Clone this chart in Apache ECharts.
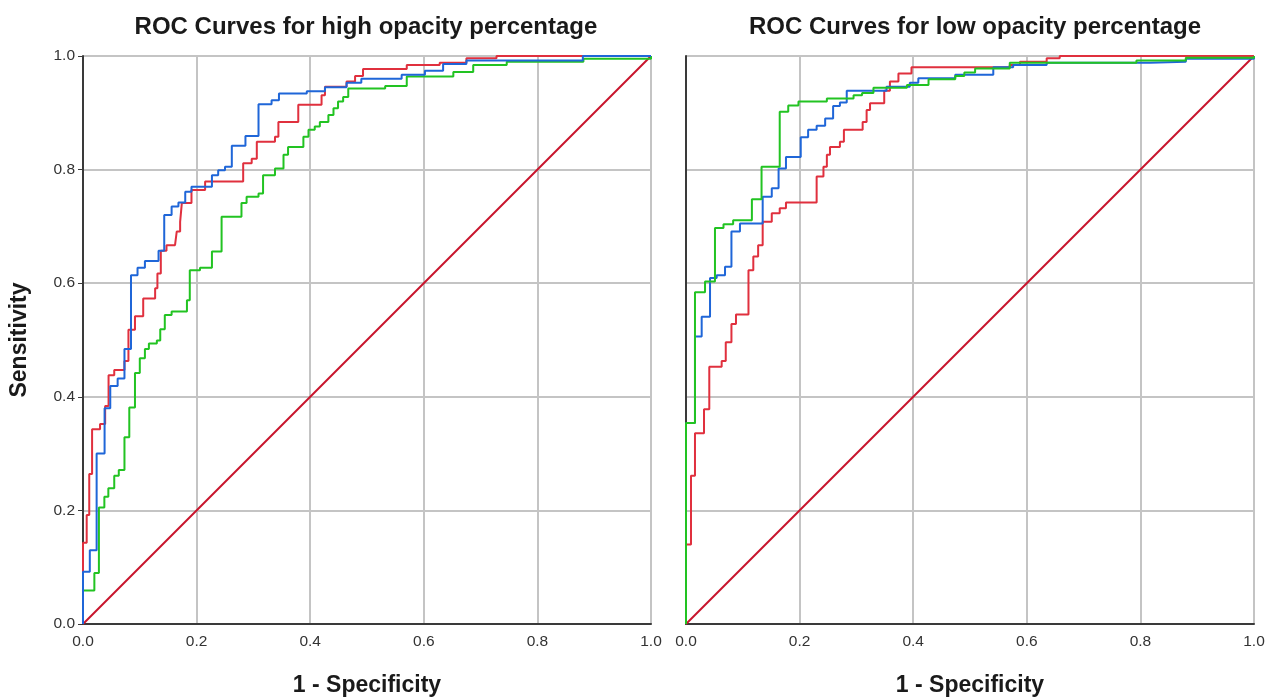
<!DOCTYPE html>
<html>
<head>
<meta charset="utf-8">
<script src="https://cdn.jsdelivr.net/npm/echarts@6/dist/echarts.min.js"></script>
<style>
html,body{margin:0;padding:0;background:#fff;}
#chart{width:1273px;height:699px;}
</style>
</head>
<body>
<div id="chart"></div>
<script>
// ---------- Data ----------
var titles = ['ROC Curves for high opacity percentage', 'ROC Curves for low opacity percentage'];
var xAxisName = '1 - Specificity';
var yAxisName = 'Sensitivity';
var tickValues = [0, 0.2, 0.4, 0.6, 0.8, 1.0];

// High opacity (left panel)
var highBlueFpr = [0, 0, 0.012, 0.024, 0.038, 0.048, 0.061, 0.073, 0.0845, 0.096, 0.109, 0.133, 0.143, 0.156, 0.168, 0.18, 0.191, 0.227, 0.238, 0.25, 0.262, 0.286, 0.309, 0.332, 0.345, 0.394, 0.426, 0.464, 0.49, 0.561, 0.602, 0.634, 0.675, 0.88, 1];
var highBlueTpr = [0, 0.092, 0.130, 0.30, 0.38, 0.419, 0.432, 0.484, 0.614, 0.627, 0.639, 0.657, 0.72, 0.735, 0.742, 0.761, 0.770, 0.790, 0.799, 0.805, 0.842, 0.859, 0.915, 0.922, 0.934, 0.938, 0.945, 0.953, 0.96, 0.967, 0.974, 0.986, 0.992, 1.0, 1];

var highRedFpr = [0, 0, 0.0065, 0.011, 0.016, 0.030, 0.039, 0.045, 0.055, 0.073, 0.080, 0.0915, 0.106, 0.127, 0.131, 0.137, 0.147, 0.162, 0.165, 0.171, 0.174, 0.191, 0.215, 0.282, 0.297, 0.306, 0.338, 0.344, 0.379, 0.42, 0.426, 0.464, 0.479, 0.493, 0.57, 0.628, 0.675, 0.728, 1];
var highRedTpr = [0, 0.143, 0.192, 0.264, 0.343, 0.352, 0.384, 0.438, 0.447, 0.463, 0.518, 0.542, 0.573, 0.591, 0.617, 0.657, 0.667, 0.670, 0.691, 0.708, 0.741, 0.764, 0.779, 0.811, 0.819, 0.849, 0.858, 0.884, 0.914, 0.931, 0.946, 0.955, 0.965, 0.977, 0.984, 0.988, 0.996, 1.0, 1];

var highGreenFpr = [0, 0, 0.020, 0.028, 0.0376, 0.0446, 0.055, 0.063, 0.073, 0.0815, 0.0915, 0.100, 0.109, 0.116, 0.130, 0.136, 0.144, 0.156, 0.183, 0.188, 0.206, 0.227, 0.244, 0.279, 0.288, 0.309, 0.317, 0.338, 0.353, 0.361, 0.388, 0.397, 0.408, 0.417, 0.432, 0.441, 0.449, 0.458, 0.467, 0.532, 0.570, 0.652, 0.687, 0.746, 0.881, 1];
var highGreenTpr = [0, 0.059, 0.090, 0.205, 0.224, 0.239, 0.261, 0.271, 0.329, 0.381, 0.442, 0.468, 0.484, 0.494, 0.499, 0.519, 0.544, 0.550, 0.570, 0.623, 0.627, 0.656, 0.717, 0.741, 0.752, 0.758, 0.790, 0.802, 0.826, 0.840, 0.858, 0.870, 0.876, 0.884, 0.896, 0.908, 0.920, 0.928, 0.943, 0.947, 0.964, 0.972, 0.984, 0.990, 0.995, 1];

// Low opacity (right panel)
var lowBlueFpr = [0, 0, 0.0158, 0.0276, 0.0423, 0.054, 0.0687, 0.080, 0.095, 0.135, 0.151, 0.163, 0.176, 0.202, 0.215, 0.230, 0.245, 0.259, 0.271, 0.283, 0.353, 0.394, 0.409, 0.474, 0.541, 0.576, 0.635, 0.817, 0.88, 1];
var lowBlueTpr = [0, 0.354, 0.506, 0.541, 0.609, 0.614, 0.629, 0.691, 0.705, 0.752, 0.767, 0.802, 0.822, 0.857, 0.870, 0.877, 0.890, 0.912, 0.918, 0.939, 0.946, 0.953, 0.961, 0.967, 0.980, 0.984, 0.988, 0.990, 0.995, 1];

var lowRedFpr = [0, 0, 0.0088, 0.0158, 0.0317, 0.041, 0.0628, 0.070, 0.080, 0.088, 0.110, 0.1185, 0.127, 0.135, 0.151, 0.165, 0.176, 0.230, 0.242, 0.248, 0.2535, 0.271, 0.278, 0.311, 0.318, 0.324, 0.349, 0.359, 0.374, 0.397, 0.57, 0.588, 0.635, 0.658, 1];
var lowRedTpr = [0, 0.140, 0.261, 0.336, 0.378, 0.453, 0.463, 0.496, 0.528, 0.545, 0.623, 0.647, 0.667, 0.708, 0.723, 0.732, 0.742, 0.788, 0.805, 0.826, 0.840, 0.849, 0.870, 0.884, 0.905, 0.917, 0.939, 0.955, 0.969, 0.980, 0.984, 0.990, 0.996, 1.0, 1];

var lowGreenFpr = [0, 0, 0.0158, 0.0335, 0.051, 0.066, 0.083, 0.116, 0.133, 0.165, 0.180, 0.198, 0.248, 0.295, 0.310, 0.330, 0.389, 0.427, 0.474, 0.49, 0.509, 0.570, 0.793, 0.88, 1];
var lowGreenTpr = [0, 0.354, 0.584, 0.603, 0.697, 0.704, 0.711, 0.748, 0.805, 0.902, 0.913, 0.920, 0.925, 0.931, 0.935, 0.944, 0.949, 0.959, 0.965, 0.971, 0.978, 0.988, 0.992, 0.997, 1];

var refFpr = [0, 1];
var refTpr = [0, 1];

// ---------- Chart ----------
var FONT = '"Liberation Sans", Arial, sans-serif';
var COL_BLUE = '#1f66d8', COL_RED = '#e0303e', COL_GREEN = '#22c322', COL_REF = '#c8142c';

function pairs(xs, ys) { return xs.map(function (x, i) { return [x, ys[i]]; }); }

function xAxisCfg(gi) {
  return {
    gridIndex: gi, type: 'value', min: 0, max: 1, interval: 0.2,
    axisLine: { show: true, onZero: false, lineStyle: { color: '#3a3a3a', width: 2 } },
    axisTick: { show: false },
    splitLine: { show: true, lineStyle: { color: '#c4c4c4', width: 2 } },
    axisLabel: { formatter: function (v) { return v.toFixed(1); }, color: '#333', fontSize: 15.5, margin: 10, fontFamily: FONT },
    name: xAxisName, nameLocation: 'middle', nameGap: 50,
    nameTextStyle: { fontWeight: 'bold', fontSize: 23, color: '#1a1a1a', fontFamily: FONT }
  };
}
function yAxisCfg(gi, showLabels) {
  return {
    gridIndex: gi, type: 'value', min: 0, max: 1, interval: 0.2,
    axisLine: { show: true, onZero: false, lineStyle: { color: '#3a3a3a', width: 2 } },
    axisTick: { show: showLabels, length: 5, lineStyle: { color: '#3a3a3a', width: 1 } },
    splitLine: { show: true, lineStyle: { color: '#c4c4c4', width: 2 } },
    axisLabel: { show: showLabels, formatter: function (v) { return v.toFixed(1); }, color: '#333', fontSize: 15.5, margin: 8, fontFamily: FONT },
    name: showLabels ? yAxisName : '', nameLocation: 'middle', nameGap: 52,
    nameTextStyle: { fontWeight: 'bold', fontSize: 23, color: '#1a1a1a', fontFamily: FONT }
  };
}
function lineSeries(gi, xs, ys, color, step) {
  return {
    type: 'line', xAxisIndex: gi, yAxisIndex: gi, data: pairs(xs, ys),
    step: step ? 'end' : false, showSymbol: false, symbol: 'none', animation: false,
    lineStyle: { color: color, width: 2 }, silent: true
  };
}

var chart = echarts.init(document.getElementById('chart'), null, { renderer: 'canvas' });
chart.setOption({
  backgroundColor: '#ffffff',
  animation: false,
  title: [
    { text: titles[0], left: 361, top: 10, textAlign: 'center', textStyle: { fontSize: 24, fontWeight: 'bold', color: '#1a1a1a', fontFamily: FONT } },
    { text: titles[1], left: 970, top: 10, textAlign: 'center', textStyle: { fontSize: 24, fontWeight: 'bold', color: '#1a1a1a', fontFamily: FONT } }
  ],
  grid: [
    { left: 83, top: 56, width: 568, height: 568, outerBoundsMode: 'none', containLabel: false },
    { left: 686, top: 56, width: 568, height: 568, outerBoundsMode: 'none', containLabel: false }
  ],
  xAxis: [xAxisCfg(0), xAxisCfg(1)],
  yAxis: [yAxisCfg(0, true), yAxisCfg(1, false)],
  series: [
    lineSeries(0, refFpr, refTpr, COL_REF, false),
    lineSeries(0, highGreenFpr, highGreenTpr, COL_GREEN, true),
    lineSeries(0, highRedFpr, highRedTpr, COL_RED, true),
    lineSeries(0, highBlueFpr, highBlueTpr, COL_BLUE, true),
    lineSeries(1, refFpr, refTpr, COL_REF, false),
    lineSeries(1, lowRedFpr, lowRedTpr, COL_RED, true),
    lineSeries(1, lowBlueFpr, lowBlueTpr, COL_BLUE, true),
    lineSeries(1, lowGreenFpr, lowGreenTpr, COL_GREEN, true)
  ]
});
</script>
</body>
</html>
